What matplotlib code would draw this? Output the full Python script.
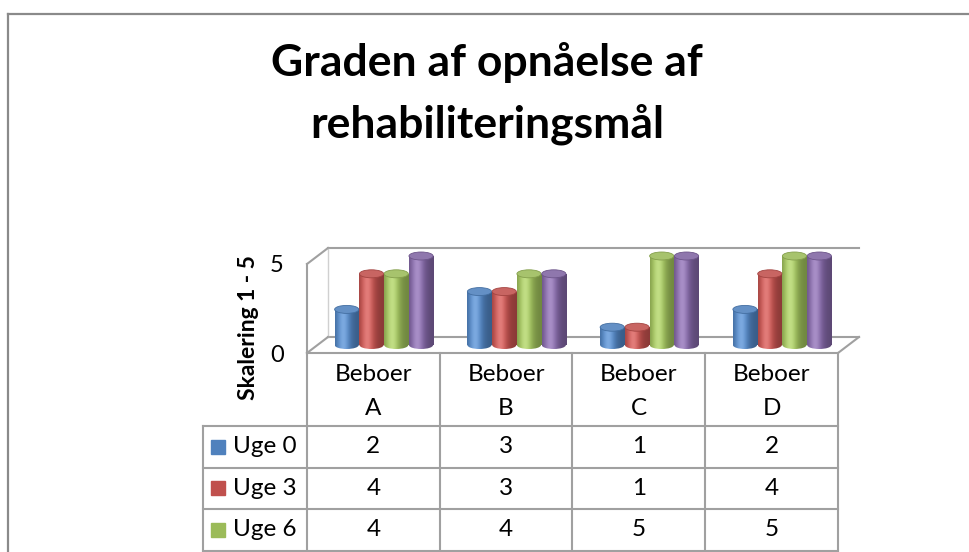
import numpy as np
import matplotlib.pyplot as plt
from matplotlib.patches import Rectangle, Ellipse
from matplotlib.colors import to_rgb

# data
residents = ['Beboer\nA', 'Beboer\nB', 'Beboer\nC', 'Beboer\nD']
weeks = ['Uge 0', 'Uge 3', 'Uge 6', 'Uge 9']
uge0 = [2, 3, 1, 2]
uge3 = [4, 3, 1, 4]
uge6 = [4, 4, 5, 5]
uge9 = [5, 4, 5, 5]
series = [uge0, uge3, uge6, uge9]
colors = ['#4F81BD', '#C0504D', '#9BBB59', '#8064A2']

plt.rcParams['font.family'] = ['Lato', 'DejaVu Sans']

W, H = 970, 552
fig = plt.figure(figsize=(W / 100, H / 100), dpi=100)


def fig_box(x0, y0, x1, y1):
    # pixel box -> figure fraction
    return [x0 / W, 1 - y1 / H, (x1 - x0) / W, (y1 - y0) / H]


# outer chart border (cut off right and bottom)
fig.add_artist(plt.Line2D([8 / W, 8 / W], [0, 1 - 14 / H], color='#8a8a8a', lw=1.6))
fig.add_artist(plt.Line2D([8 / W, 1], [1 - 14 / H, 1 - 14 / H], color='#8a8a8a', lw=1.6))

# title
fig.text(487 / W, 1 - 62 / H, 'Graden af opnåelse af', ha='center', va='center',
         fontsize=32, fontweight='bold')
fig.text(487 / W, 1 - 124 / H, 'rehabiliteringsmål', ha='center', va='center',
         fontsize=32, fontweight='bold')

# plot area (front plane), with some room above/below for the 3D depth
px_x = 531 / 4.0
px_y = 89 / 5.0
ax = fig.add_axes(fig_box(307, 264 - 2 * px_y, 838, 353 + px_y))
ax.set_xlim(-0.5, 3.5)
ax.set_ylim(-1, 7)
ax.axis('off')

DX = 21 / px_x
DY = 16 / px_y

grid_c = '#a0a0a0'
lw = 1.5
# walls / floor
ax.plot([-0.5, -0.5], [0, 5], color=grid_c, lw=lw, clip_on=False)
ax.plot([-0.5, 3.5], [0, 0], color=grid_c, lw=lw, clip_on=False)
ax.plot([-0.5 + DX, 3.5 + DX], [DY, DY], color=grid_c, lw=lw, clip_on=False)
ax.plot([-0.5 + DX, 3.5 + DX], [5 + DY, 5 + DY], color=grid_c, lw=lw, clip_on=False)
ax.plot([-0.5 + DX, -0.5 + DX], [DY, 5 + DY], color='#d0d0d0', lw=1, clip_on=False)
for x0, y0 in [(-0.5, 0), (-0.5, 5), (3.5, 0)]:
    ax.plot([x0, x0 + DX], [y0, y0 + DY], color=grid_c, lw=lw, clip_on=False)

# y ticks
for v in [0, 5]:
    ax.annotate(str(v), (-0.5, v), xytext=(-30, -2), textcoords='offset pixels',
                ha='center', va='center', fontsize=17, annotation_clip=False)
fig.text(249 / W, 1 - 328 / H, 'Skalering 1 - 5', rotation=90, ha='center', va='center',
         fontsize=16.5, fontweight='bold')

# cylinders
offsets = [-0.28, -0.093, 0.093, 0.28]
cw = 0.182
eh = 8 / px_y
t = np.linspace(0, 1, 64)
profile = np.exp(-((t - 0.33) / 0.33) ** 2)
for k, vals in enumerate(series):
    base = np.array(to_rgb(colors[k]))
    shade = base[None, :] * (0.72 + 0.42 * profile[:, None])
    shade = shade + (1 - np.clip(shade, 0, 1)) * 0.2 * profile[:, None] ** 3
    grad = np.clip(shade, 0, 1)[None, :, :]
    top_c = base + (1 - base) * 0.12
    for j, v in enumerate(vals):
        cx = j + offsets[k] + DX / 2
        y0 = DY / 2
        y1 = v + DY / 2
        body = Rectangle((cx - cw / 2, y0), cw, y1 - y0, transform=ax.transData)
        im = ax.imshow(grad, extent=[cx - cw / 2, cx + cw / 2, y0 - eh / 2, y1],
                       aspect='auto', interpolation='bilinear', zorder=2)
        im.set_clip_path(body)
        bottom = Ellipse((cx, y0), cw, eh, transform=ax.transData)
        im2 = ax.imshow(grad, extent=[cx - cw / 2, cx + cw / 2, y0 - eh / 2, y0 + eh / 2],
                        aspect='auto', interpolation='bilinear', zorder=2)
        im2.set_clip_path(bottom)
        ax.add_patch(Ellipse((cx, y1), cw, eh, facecolor=top_c,
                             edgecolor=base * 0.85, lw=0.6, zorder=3))
ax.set_xlim(-0.5, 3.5)
ax.set_ylim(-1, 7)

# data table
hdr = 73 / 41.5
lab_w = 104 / px_x
tax = fig.add_axes(fig_box(203, 353, 838, 353 + 73 + 4 * 41.5))
tax.set_xlim(-0.5 - lab_w, 3.5)
tax.set_ylim(hdr + 4, 0)
tax.axis('off')

for i in range(5):
    tax.plot([-0.5 + i, -0.5 + i], [0, hdr + 4], color=grid_c, lw=lw, clip_on=False)
tax.plot([-0.5 - lab_w, -0.5 - lab_w], [hdr, hdr + 4], color=grid_c, lw=lw, clip_on=False)
for i in range(5):
    tax.plot([-0.5 - lab_w, 3.5], [hdr + i, hdr + i], color=grid_c, lw=lw, clip_on=False)

for j, name in enumerate(residents):
    tax.text(j, hdr / 2 + 0.05, name, ha='center', va='center', fontsize=17.5,
             linespacing=1.75)

# the last row (Uge 9) lies below the visible picture, only its grid line shows
for i, (wk, vals) in enumerate(zip(weeks[:3], series[:3])):
    yc = hdr + i + 0.5
    tax.plot([-0.5 - lab_w + 15 / px_x], [yc], marker='s', ms=10, color=colors[i],
             clip_on=False)
    tax.text(-0.5 - lab_w + 30 / px_x, yc, wk, ha='left', va='center', fontsize=17.5)
    for j, v in enumerate(vals):
        tax.text(j, yc, str(v), ha='center', va='center', fontsize=17.5)

fig.savefig('out.png', dpi=100)
